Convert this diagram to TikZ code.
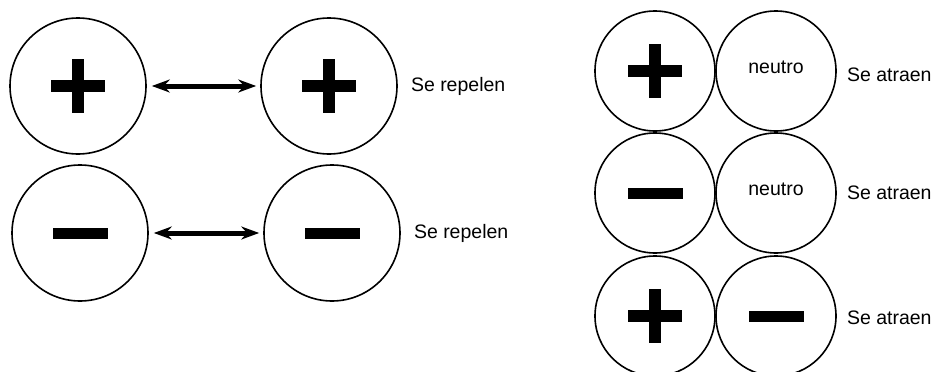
\documentclass[tikz,border=0pt]{standalone}
\usepackage{fontspec}
\setmainfont{Liberation Sans}
\usetikzlibrary{arrows.meta,positioning}
\newcommand{\plusmark}{\makebox[0pt]{\rule[-6pt]{54pt}{12pt}}\makebox[0pt]{\rule[-27pt]{12pt}{54pt}}}
\newcommand{\minusmark}{\rule[-5.5pt]{55pt}{11pt}}
\begin{document}
\begin{tikzpicture}[x=1pt, y=-1pt, >={Stealth[length=18pt,width=13pt,inset=6pt]},
  big node/.style={circle,draw,line width=1.6pt,minimum size=136pt,inner sep=0pt},
  small node/.style={big node,minimum size=120pt},
  neutral node/.style={small node,text height=12pt,text depth=8pt},%raised a bit
  say/.style={inner sep=2pt}]
\useasboundingbox (0,0) rectangle (938,372);
\begin{scope}[every node/.style={font=\fontsize{19.5}{23}\selectfont}]
\node[big node] (p1) at (78,86) {\plusmark};
\node[big node] (p2) at (329,86) {\plusmark};
\node[big node] (m1) at (80,233) {\minusmark};
\node[big node] (m2) at (332,233) {\minusmark};
\node[small node] (a1) at (655,71) {\plusmark};
\node[neutral node] (a2) at (776,71) {neutro};
\node[small node] (b1) at (655,193) {\minusmark};
\node[neutral node] (b2) at (776,193) {neutro};
\node[small node] (c1) at (655,316) {\plusmark};
\node[small node] (c2) at (776,316) {\minusmark};
\node[say, right=11pt of p2] (r1) {Se repelen};
\node[say, right=11pt of m2] (r2) {Se repelen};
\node[say, right=8pt of a2, yshift=-4pt] (t1) {Se atraen};
\node[say, right=8pt of b2] (t2) {Se atraen};
\node[say, right=8pt of c2, yshift=-2pt] (t3) {Se atraen};
\end{scope}
\begin{scope}[line width=5pt]
\draw[<->, shorten <=5pt, shorten >=4pt] (p1) -- (p2);
\draw[<->, shorten <=5pt, shorten >=4pt] (m1) -- (m2);
\end{scope}
\end{tikzpicture}
\end{document}
